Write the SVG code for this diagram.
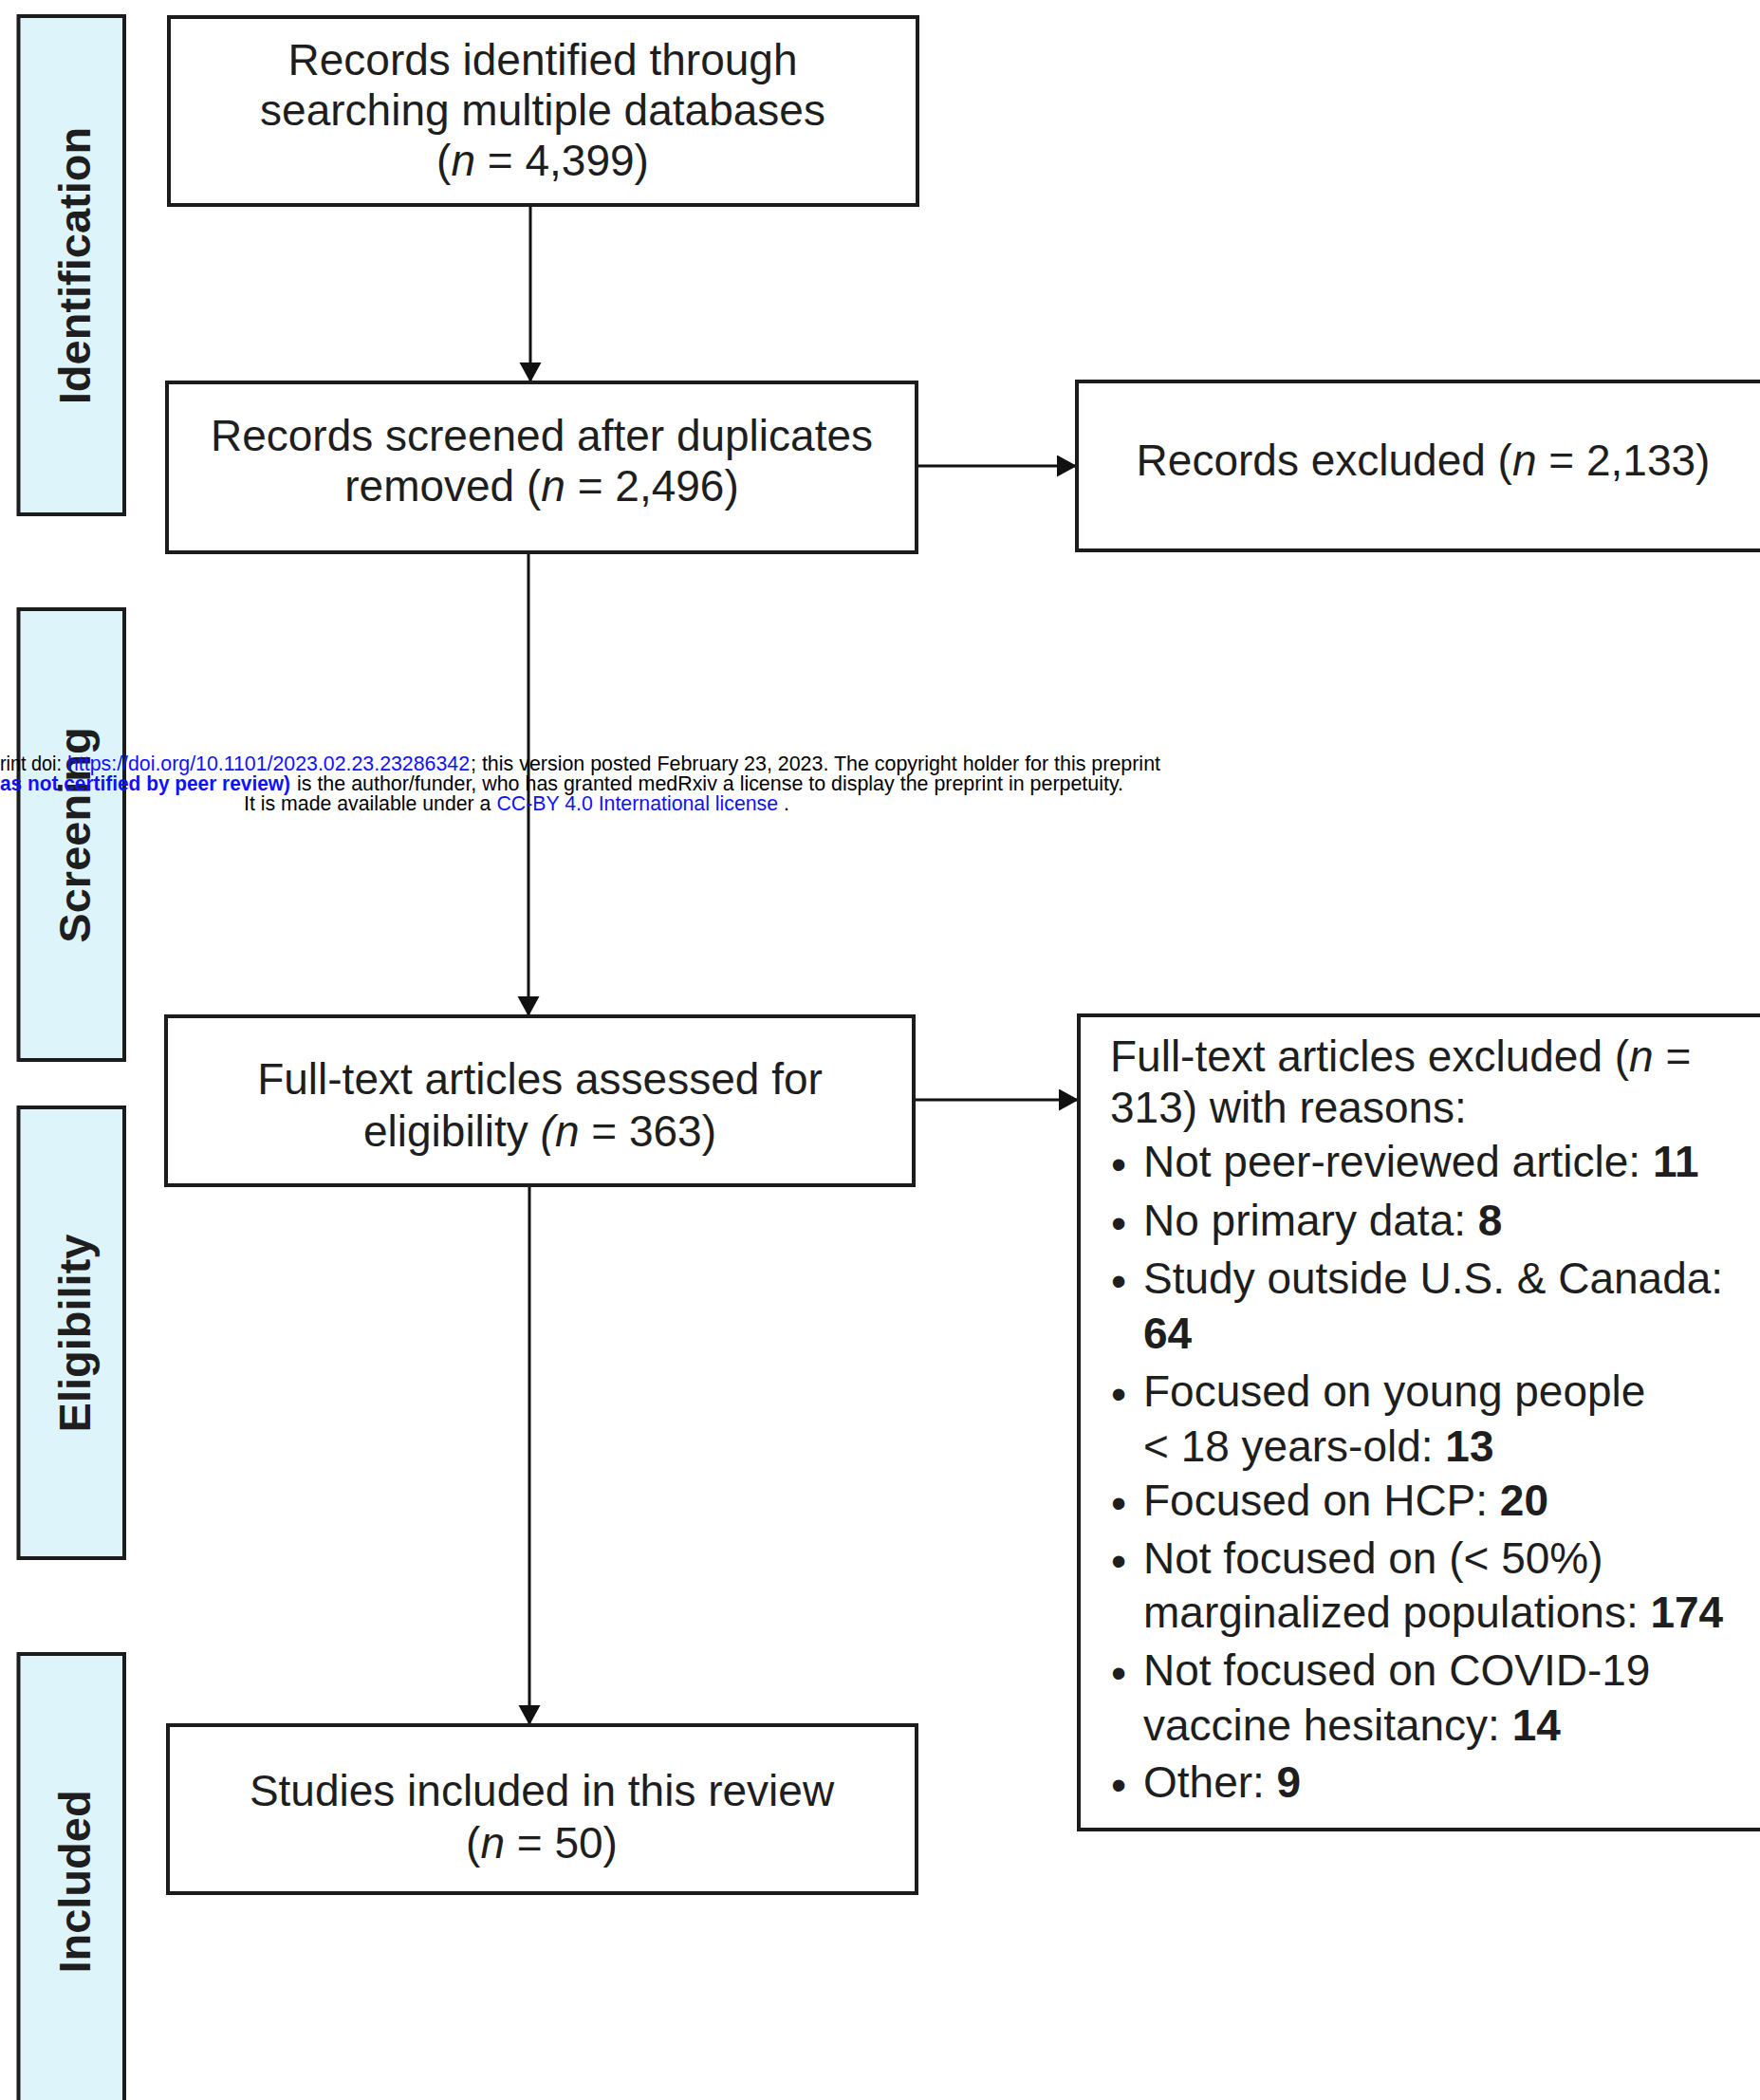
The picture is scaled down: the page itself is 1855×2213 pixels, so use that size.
<svg xmlns="http://www.w3.org/2000/svg" width="1855" height="2213" viewBox="0 0 1855 2213">
<style>
.bg{fill:#ffffff}
.bar{fill:#def4fb;stroke:#1c1c1c;stroke-width:4}
.box{fill:#ffffff;stroke:#1c1c1c;stroke-width:4}
.bt{font-family:"Liberation Sans",Arial,sans-serif;font-size:46px;fill:#1e1e1e}
.ct{text-anchor:middle}
.st{font-family:"Liberation Sans",Arial,sans-serif;font-size:47px;font-weight:bold;fill:#1e1e1e;text-anchor:middle}
.it{font-style:italic}
.b{font-weight:bold}
.conn{stroke:#111;stroke-width:3;fill:none}
.wm{font-family:"Liberation Sans",Arial,sans-serif;font-size:21.3px;fill:#000}
.bl{fill:#1010ff}
</style>
<defs>
<marker id="arr" markerUnits="userSpaceOnUse" markerWidth="22" markerHeight="24" refX="21" refY="11.5" orient="auto">
<path d="M0,0 L21,11.5 L0,23 z" fill="#111"/>
</marker>
</defs>
<rect class="bg" x="0" y="0" width="1855" height="2213"/>

<g id="stage-identification">
<rect class="bar" x="19.5" y="17" width="111.5" height="525"/>
<text class="st" transform="translate(95,280) rotate(-90)">Identification</text>
</g>
<g id="stage-screening">
<rect class="bar" x="19.5" y="642" width="111.5" height="475"/>
<text class="st" transform="translate(95,880) rotate(-90)">Screening</text>
</g>
<g id="stage-eligibility">
<rect class="bar" x="19.5" y="1167" width="111.5" height="475"/>
<text class="st" transform="translate(95,1405) rotate(-90)">Eligibility</text>
</g>
<g id="stage-included">
<rect class="bar" x="19.5" y="1743" width="111.5" height="500"/>
<text class="st" transform="translate(95,1983) rotate(-90)">Included</text>
</g>

<g id="connectors">
<line class="conn" x1="559" y1="216" x2="559" y2="403" marker-end="url(#arr)"/>
<line class="conn" x1="557" y1="582" x2="557" y2="1071" marker-end="url(#arr)"/>
<line class="conn" x1="558" y1="1249" x2="558" y2="1818" marker-end="url(#arr)"/>
<line class="conn" x1="966" y1="491" x2="1135" y2="491" marker-end="url(#arr)"/>
<line class="conn" x1="963" y1="1159" x2="1137" y2="1159" marker-end="url(#arr)"/>
</g>

<g id="records-identified">
<rect class="box" x="178" y="18" width="789" height="198"/>
<text class="bt ct" x="572" y="79">Records identified through</text>
<text class="bt ct" x="572" y="132">searching multiple databases</text>
<text class="bt ct" x="572" y="185">(<tspan class="it">n</tspan> = 4,399)</text>
</g>

<g id="records-screened">
<rect class="box" x="176" y="403" width="790" height="179"/>
<text class="bt ct" x="571" y="475">Records screened after duplicates</text>
<text class="bt ct" x="571" y="528">removed (<tspan class="it">n</tspan> = 2,496)</text>
</g>

<g id="records-excluded">
<rect class="box" x="1135" y="402" width="740" height="178"/>
<text class="bt ct" x="1500" y="501">Records excluded (<tspan class="it">n</tspan> = 2,133)</text>
</g>

<g id="fulltext-assessed">
<rect class="box" x="175" y="1071" width="788" height="178"/>
<text class="bt ct" x="569" y="1153">Full-text articles assessed for</text>
<text class="bt ct" x="569" y="1208">eligibility <tspan class="it">(n</tspan> = 363)</text>
</g>

<g id="fulltext-excluded">
<rect class="box" x="1137" y="1070" width="740" height="858"/>
<text class="bt" x="1170" y="1129">Full-text articles excluded (<tspan class="it">n</tspan> =</text>
<text class="bt" x="1170" y="1183">313) with reasons:</text>
<text class="bt ct" x="1179" y="1243">•</text>
<text class="bt" x="1205" y="1240">Not peer-reviewed article: <tspan class="b">11</tspan></text>
<text class="bt ct" x="1179" y="1305">•</text>
<text class="bt" x="1205" y="1302">No primary data: <tspan class="b">8</tspan></text>
<text class="bt ct" x="1179" y="1366">•</text>
<text class="bt" x="1205" y="1363">Study outside U.S. &amp; Canada:</text>
<text class="bt b" x="1205" y="1421">64</text>
<text class="bt ct" x="1179" y="1485">•</text>
<text class="bt" x="1205" y="1482">Focused on young people</text>
<text class="bt" x="1205" y="1540">&lt; 18 years-old: <tspan class="b">13</tspan></text>
<text class="bt ct" x="1179" y="1600">•</text>
<text class="bt" x="1205" y="1597">Focused on HCP: <tspan class="b">20</tspan></text>
<text class="bt ct" x="1179" y="1661">•</text>
<text class="bt" x="1205" y="1658">Not focused on (&lt; 50%)</text>
<text class="bt" x="1205" y="1715">marginalized populations: <tspan class="b">174</tspan></text>
<text class="bt ct" x="1179" y="1779">•</text>
<text class="bt" x="1205" y="1776">Not focused on COVID-19</text>
<text class="bt" x="1205" y="1834">vaccine hesitancy: <tspan class="b">14</tspan></text>
<text class="bt ct" x="1179" y="1897">•</text>
<text class="bt" x="1205" y="1894">Other: <tspan class="b">9</tspan></text>
</g>

<g id="studies-included">
<rect class="box" x="177" y="1818" width="789" height="177"/>
<text class="bt ct" x="571" y="1903">Studies included in this review</text>
<text class="bt ct" x="571" y="1958">(<tspan class="it">n</tspan> = 50)</text>
</g>

<g id="watermark">
<text class="wm" x="0" y="812" textLength="65" lengthAdjust="spacingAndGlyphs">rint doi:</text>
<text class="wm bl" x="71" y="812" textLength="424" lengthAdjust="spacingAndGlyphs">https://doi.org/10.1101/2023.02.23.23286342</text>
<text class="wm" x="496" y="812" textLength="727" lengthAdjust="spacingAndGlyphs">; this version posted February 23, 2023. The copyright holder for this preprint</text>
<text class="wm bl b" x="0" y="833" textLength="306" lengthAdjust="spacingAndGlyphs">as not certified by peer review)</text>
<text class="wm" x="313" y="833" textLength="871" lengthAdjust="spacingAndGlyphs">is the author/funder, who has granted medRxiv a license to display the preprint in perpetuity.</text>
<text class="wm" x="257" y="854">It is made available under a <tspan class="bl">CC-BY 4.0 International license</tspan> .</text>
</g>
</svg>
